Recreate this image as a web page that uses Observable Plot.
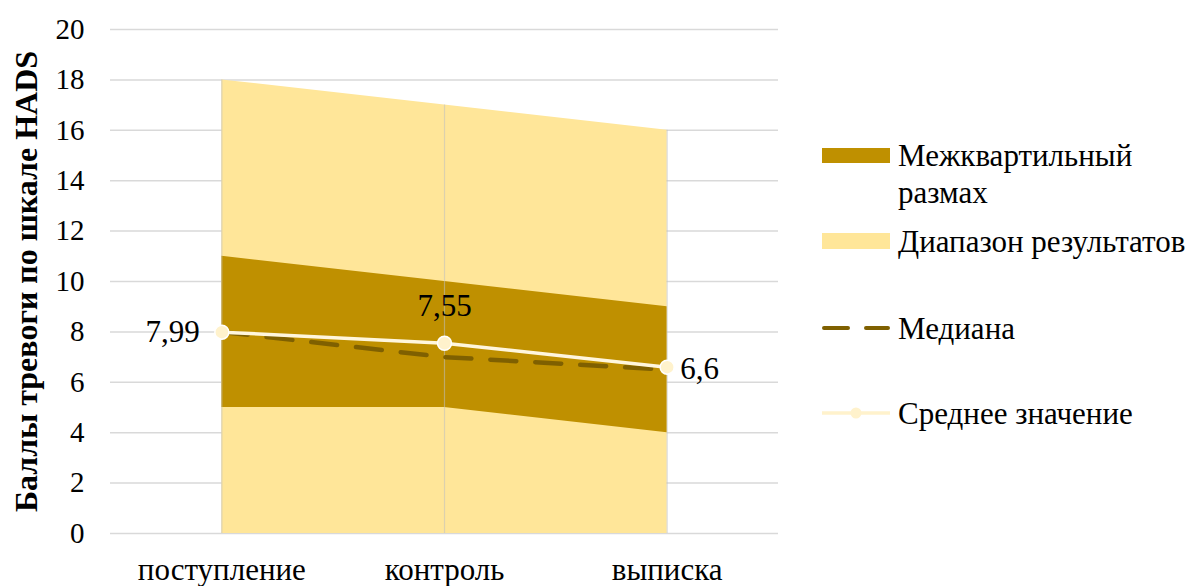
<!DOCTYPE html>
<html>
<head>
<meta charset="utf-8">
<script src="https://cdn.jsdelivr.net/npm/d3@7"></script>
<script src="https://cdn.jsdelivr.net/npm/@observablehq/plot@0.6"></script>
<style>
  html, body { margin: 0; padding: 0; background: #fff; }
  #wrap { position: relative; width: 1195px; height: 586px; font-family: "Liberation Serif", Tinos, "Times New Roman", "DejaVu Serif", serif; }
  #wrap svg { display: block; }
  #wrap svg text { font-family: "Liberation Serif", Tinos, "Times New Roman", "DejaVu Serif", serif; }
  g[aria-label="y-axis label"] text { font-weight: bold; font-size: 32px; }
  .legend { position: absolute; left: 822px; top: 0; width: 373px; font-size: 31px; color: #000; }
  .item { position: absolute; left: 0; display: flex; align-items: flex-start; }
  .item .txt { margin-left: 8px; line-height: 37px; white-space: nowrap; }
</style>
</head>
<body>
<div id="wrap"></div>
<script>
const categories = ["поступление", "контроль", "выписка"];
const rangeMin = [0, 0, 0];
const rangeMax = [18, 17, 16];
const q1 = [5, 5, 4];
const q3 = [11, 10, 9];
const median = [8, 7, 6.5];
const mean = [7.99, 7.55, 6.6];
const meanLabels = ["7,99", "7,55", "6,6"];
const yTicks = [0, 2, 4, 6, 8, 10, 12, 14, 16, 18, 20];

const data = categories.map((c, i) => ({
  i, c, rmin: rangeMin[i], rmax: rangeMax[i], q1: q1[i], q3: q3[i],
  med: median[i], mean: mean[i], lab: meanLabels[i]
}));

const FONT = "'Liberation Serif', Tinos, 'Times New Roman', 'DejaVu Serif', serif";

const chart = Plot.plot({
  width: 1195,
  height: 586,
  marginLeft: 110,
  marginRight: 417,
  marginTop: 29,
  marginBottom: 53,
  style: { fontFamily: FONT, fontSize: "29px", color: "#000", background: "#fff" },
  x: { type: "linear", domain: [-0.5, 2.5] },
  y: { domain: [0, 20] },
  marks: [
    Plot.gridY(yTicks, { stroke: "#d9d9d9", strokeOpacity: 1, strokeWidth: 1.5 }),
    Plot.areaY(data, { x: "i", y1: "rmin", y2: "rmax", fill: "#FFE699" }),
    Plot.areaY(data, { x: "i", y1: "q1", y2: "q3", fill: "#BF9000" }),
    Plot.ruleX(data, { x: "i", y1: "rmin", y2: "rmax", stroke: "#bfbfbf", strokeOpacity: 0.55, strokeWidth: 1.2 }),
    Plot.lineY(data, { x: "i", y: "med", stroke: "#7F6000", strokeWidth: 4.5, strokeDasharray: "26,19", strokeLinecap: "round" }),
    Plot.lineY(data, { x: "i", y: "mean", stroke: "#FFF6DC", strokeWidth: 3.5 }),
    Plot.dot(data, { x: "i", y: "mean", r: 7, fill: "#FFF2CC", stroke: "#ffffff", strokeWidth: 1.5 }),
    Plot.text(data.filter(d => d.i === 0), { x: "i", y: "mean", text: "lab", textAnchor: "end", dx: -22, fontSize: 31 }),
    Plot.text(data.filter(d => d.i === 1), { x: "i", y: "mean", text: "lab", textAnchor: "middle", dy: -37, fontSize: 31 }),
    Plot.text(data.filter(d => d.i === 2), { x: "i", y: "mean", text: "lab", textAnchor: "start", dx: 13, dy: 2, fontSize: 31 }),
    Plot.axisY(yTicks, { tickSize: 0, tickPadding: 26, fontSize: 29, label: "Баллы тревоги по шкале HADS", labelAnchor: "center", labelOffset: 96, labelArrow: "none" }),
    Plot.axisX([0, 1, 2], { tickSize: 0, tickPadding: 24, fontSize: 31, tickFormat: i => categories[i], label: null })
  ]
});

const wrap = document.getElementById("wrap");
wrap.appendChild(chart);

const legend = document.createElement("div");
legend.className = "legend";
legend.innerHTML = `
  <div class="item" style="top:137px">
    <svg width="68" height="37"><rect x="0" y="11" width="68" height="15" fill="#BF9000"/></svg>
    <div class="txt">Межквартильный<br>размах</div>
  </div>
  <div class="item" style="top:223px">
    <svg width="68" height="37"><rect x="0" y="10" width="68" height="16" fill="#FFE699"/></svg>
    <div class="txt">Диапазон результатов</div>
  </div>
  <div class="item" style="top:310px">
    <svg width="68" height="37"><line x1="2" y1="18" x2="66" y2="18" stroke="#7F6000" stroke-width="4" stroke-dasharray="24,18" stroke-linecap="round"/></svg>
    <div class="txt">Медиана</div>
  </div>
  <div class="item" style="top:395px">
    <svg width="68" height="37"><line x1="0" y1="18" x2="68" y2="18" stroke="#FFF2CC" stroke-width="3.5"/><circle cx="34" cy="18" r="5.5" fill="#FFF2CC"/></svg>
    <div class="txt">Среднее значение</div>
  </div>`;
wrap.appendChild(legend);
</script>
</body>
</html>
